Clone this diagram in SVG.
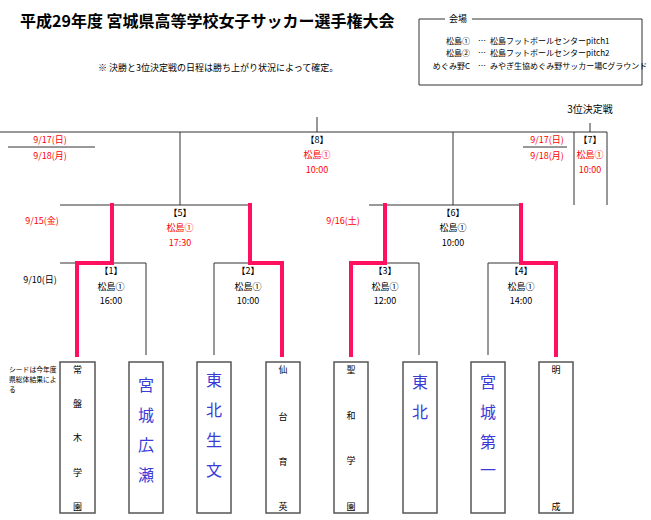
<svg xmlns="http://www.w3.org/2000/svg" width="651" height="520" viewBox="0 0 651 520">
<style>
text{font-family:"Noto Sans CJK JP","Liberation Sans",sans-serif;}
.g{stroke:#333;stroke-width:1;fill:none}
.p{stroke:#ff1060;stroke-width:4;fill:none;stroke-linecap:square}
.s{font-size:9px;fill:#000;text-anchor:middle}
.r{font-size:9px;fill:#ff0000;text-anchor:middle}
.t{font-size:10px;fill:#000;text-anchor:middle}
.b{font-size:16px;fill:#3b3bd8;text-anchor:middle}
.box{fill:#fff;stroke:#555;stroke-width:1.5}
</style>
<rect width="651" height="520" fill="#fff"/>
<text x="20" y="27" font-size="16" font-weight="bold">平成29年度  宮城県高等学校女子サッカー選手権大会</text>
<text x="98" y="71" font-size="9">※ 決勝と3位決定戦の日程は勝ち上がり状況によって確定。</text>
<g id="legend">
<path class="g" d="M445 19H419V85H642V19H472"/>
<text x="458" y="22" font-size="9" text-anchor="middle">会場</text>
<text x="470" y="44" font-size="8" text-anchor="end">松島①</text>
<text x="470" y="56" font-size="8" text-anchor="end">松島②</text>
<text x="470" y="69" font-size="8" text-anchor="end">めぐみ野C</text>
<text x="478" y="44" font-size="8">…</text><text x="478" y="56" font-size="8">…</text><text x="478" y="69" font-size="8">…</text>
<text x="490" y="44" font-size="8">松島フットボールセンターpitch1</text>
<text x="490" y="56" font-size="8">松島フットボールセンターpitch2</text>
<text x="490" y="69" font-size="8">みやぎ生協めぐみ野サッカー場Cグラウンド</text>
</g>
<g id="connectors">
<path class="g" d="M0 132H607M180 205V132M453 205V132M317 117V132M574 205V132M607 205V132M590 123V132"/>
<path class="g" stroke="#888" d="M8 147H95M523 147H567"/>
<path class="g" d="M60 205H250M369 205H521M60 263H146V355M214 263H282M214 263V355M351 263H419V355M488 263H556M488 263V355"/>
<path class="p" d="M77 355V263H112V205M282 355V263H250V205M351 355V263H385V205M556 355V263H521V205"/>
</g>
<text x="590" y="113" class="t">3位決定戦</text>
<g id="m8"><text x="317" y="143" class="s">【8】</text><text x="317" y="158" class="r">松島①</text><text x="317" y="173" class="r">10:00</text></g>
<g id="m7"><text x="590" y="143" class="s">【7】</text><text x="590" y="158" class="r">松島①</text><text x="590" y="173" class="r">10:00</text></g>
<text x="50" y="143" class="r">9/17(日)</text><text x="50" y="159" class="r">9/18(月)</text>
<text x="547" y="143" class="r">9/17(日)</text><text x="547" y="159" class="r">9/18(月)</text>
<g id="m5"><text x="180" y="216" class="s">【5】</text><text x="180" y="231" class="r">松島①</text><text x="180" y="246" class="r">17:30</text></g>
<g id="m6"><text x="453" y="216" class="s">【6】</text><text x="453" y="231" class="s">松島①</text><text x="453" y="246" class="s">10:00</text></g>
<text x="42" y="224" class="r">9/15(金)</text><text x="343" y="224" class="r">9/16(土)</text>
<text x="40" y="283" class="s">9/10(日)</text>
<g id="m1"><text x="111" y="274" class="s">【1】</text><text x="111" y="290" class="s">松島①</text><text x="111" y="304" class="s">16:00</text></g>
<g id="m2"><text x="248" y="274" class="s">【2】</text><text x="248" y="290" class="s">松島①</text><text x="248" y="304" class="s">10:00</text></g>
<g id="m3"><text x="385" y="274" class="s">【3】</text><text x="385" y="290" class="s">松島①</text><text x="385" y="304" class="s">12:00</text></g>
<g id="m4"><text x="521" y="274" class="s">【4】</text><text x="521" y="290" class="s">松島①</text><text x="521" y="304" class="s">14:00</text></g>
<text x="9" y="372" font-size="6.8">シードは今年度</text><text x="9" y="382" font-size="6.8">県総体結果によ</text><text x="9" y="392" font-size="6.8">る</text>
<g id="t1"><rect class="box" x="60" y="362" width="35" height="151"/><text class="s" x="77.5"><tspan x="77.5" y="373">常</tspan><tspan x="77.5" y="407">盤</tspan><tspan x="77.5" y="441">木</tspan><tspan x="77.5" y="476">学</tspan><tspan x="77.5" y="510">園</tspan></text></g>
<g id="t2"><rect class="box" x="129" y="362" width="34" height="151"/><text class="b"><tspan x="146" y="391">宮</tspan><tspan x="146" y="421">城</tspan><tspan x="146" y="451">広</tspan><tspan x="146" y="481">瀬</tspan></text></g>
<g id="t3"><rect class="box" x="197" y="362" width="34" height="151"/><text class="b"><tspan x="214" y="386">東</tspan><tspan x="214" y="416">北</tspan><tspan x="214" y="446">生</tspan><tspan x="214" y="476">文</tspan></text></g>
<g id="t4"><rect class="box" x="266" y="362" width="34" height="151"/><text class="s"><tspan x="283" y="373">仙</tspan><tspan x="283" y="420">台</tspan><tspan x="283" y="465">育</tspan><tspan x="283" y="510">英</tspan></text></g>
<g id="t5"><rect class="box" x="334" y="362" width="34" height="151"/><text class="s"><tspan x="351" y="373">聖</tspan><tspan x="351" y="419">和</tspan><tspan x="351" y="464">学</tspan><tspan x="351" y="510">園</tspan></text></g>
<g id="t6"><rect class="box" x="403" y="362" width="34" height="151"/><text class="b"><tspan x="420" y="388">東</tspan><tspan x="420" y="418">北</tspan></text></g>
<g id="t7"><rect class="box" x="471" y="362" width="34" height="151"/><text class="b"><tspan x="488" y="388">宮</tspan><tspan x="488" y="418">城</tspan><tspan x="488" y="448">第</tspan><tspan x="488" y="476">一</tspan></text></g>
<g id="t8"><rect class="box" x="539" y="362" width="34" height="151"/><text class="s"><tspan x="556" y="373">明</tspan><tspan x="556" y="510">成</tspan></text></g>
</svg>
